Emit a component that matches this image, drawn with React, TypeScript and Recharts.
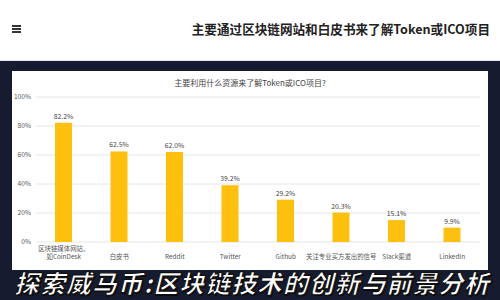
import React from 'react'
import { BarChart, Bar, XAxis, YAxis, CartesianGrid, LabelList } from 'recharts'

const categories = [
  '区块链媒体网站、\n如CoinDesk',
  '白皮书',
  'Reddit',
  'Twitter',
  'Github',
  '关注专业买方发出的信号',
  'Slack渠道',
  'LinkedIn',
]
const shares = [82.2, 62.5, 62.0, 39.2, 29.2, 20.3, 15.1, 9.9]
const yTicks = [0, 20, 40, 60, 80, 100]

const data = categories.map((name, i) => ({ name, value: shares[i] }))

const NAVY = '#161b30'
const GOLD = '#fdc00f'

function CategoryTick(props: any) {
  const { x, y, payload } = props
  const lines = String(payload.value).split('\n')
  const start = lines.length > 1 ? 2.5 : 10.5
  return (
    <text x={x} y={y} textAnchor="middle" fontSize={6.4} fill="#555">
      {lines.map((line, i) => (
        <tspan key={i} x={x} dy={i === 0 ? start : 8}>
          {line}
        </tspan>
      ))}
    </text>
  )
}

export default function App() {
  return (
    <div
      style={{
        position: 'fixed',
        left: 0,
        top: 0,
        width: 500,
        height: 300,
        background: NAVY,
        overflow: 'hidden',
        fontFamily: '"Noto Sans CJK SC", "Noto Sans", sans-serif',
      }}
    >
      {/* header */}
      <div
        style={{
          position: 'absolute',
          left: 0,
          top: 0,
          width: 500,
          height: 60,
          background: '#fff',
          borderBottom: '1px solid #e6e8ee',
        }}
      >
        {[0, 1, 2].map((i) => (
          <div
            key={i}
            style={{
              position: 'absolute',
              left: 12,
              top: 25 + i * 3,
              width: 9,
              height: 1.5,
              background: '#333',
            }}
          />
        ))}
        <div
          style={{
            position: 'absolute',
            right: 10,
            top: 19,
            fontSize: 12.6,
            fontWeight: 700,
            color: '#222',
            whiteSpace: 'nowrap',
          }}
        >
          主要通过区块链网站和白皮书来了解Token或ICO项目
        </div>
      </div>

      {/* card */}
      <div
        style={{
          position: 'absolute',
          left: 12,
          top: 71,
          width: 476,
          height: 199,
          background: '#fff',
        }}
      >
        <div
          style={{
            position: 'absolute',
            left: 0,
            width: 476,
            top: 6,
            textAlign: 'center',
            fontSize: 8,
            color: '#444',
            whiteSpace: 'nowrap',
          }}
        >
          主要利用什么资源来了解Token或ICO项目?
        </div>
        <BarChart
          width={476}
          height={199}
          data={data}
          margin={{ top: 26, right: 8, bottom: 0, left: 0 }}
        >
          <CartesianGrid vertical={false} stroke="#e6e6e6" />
          <XAxis
            dataKey="name"
            axisLine={false}
            tickLine={false}
            tickSize={4}
            tickMargin={2}
            height={28}
            interval={0}
            tick={<CategoryTick />}
          />
          <YAxis
            domain={[0, 100]}
            ticks={yTicks}
            width={24}
            axisLine={false}
            tickLine={false}
            tickSize={3}
            tickMargin={2}
            tickFormatter={(v) => v + '%'}
            tick={{ fontSize: 6.6, fill: '#555' }}
          />
          <Bar dataKey="value" fill={GOLD} barSize={17} isAnimationActive={false}>
            <LabelList
              dataKey="value"
              position="top"
              offset={4}
              formatter={(v: any) => Number(v).toFixed(1) + '%'}
              style={{ fontSize: 6.8, fill: '#444' }}
            />
          </Bar>
        </BarChart>
      </div>

      {/* overlay title */}
      <div
        style={{
          position: 'absolute',
          left: 14,
          top: 266,
          fontSize: 25,
          fontWeight: 900,
          fontStyle: 'italic',
          color: '#fff',
          whiteSpace: 'nowrap',
          letterSpacing: 0.9,
          WebkitTextStroke: '1.2px #111',
          textShadow: '1px 1px 0 #000',
          lineHeight: '32px',
        }}
      >
        探索威马币:区块链技术的创新与前景分析
      </div>
    </div>
  )
}
